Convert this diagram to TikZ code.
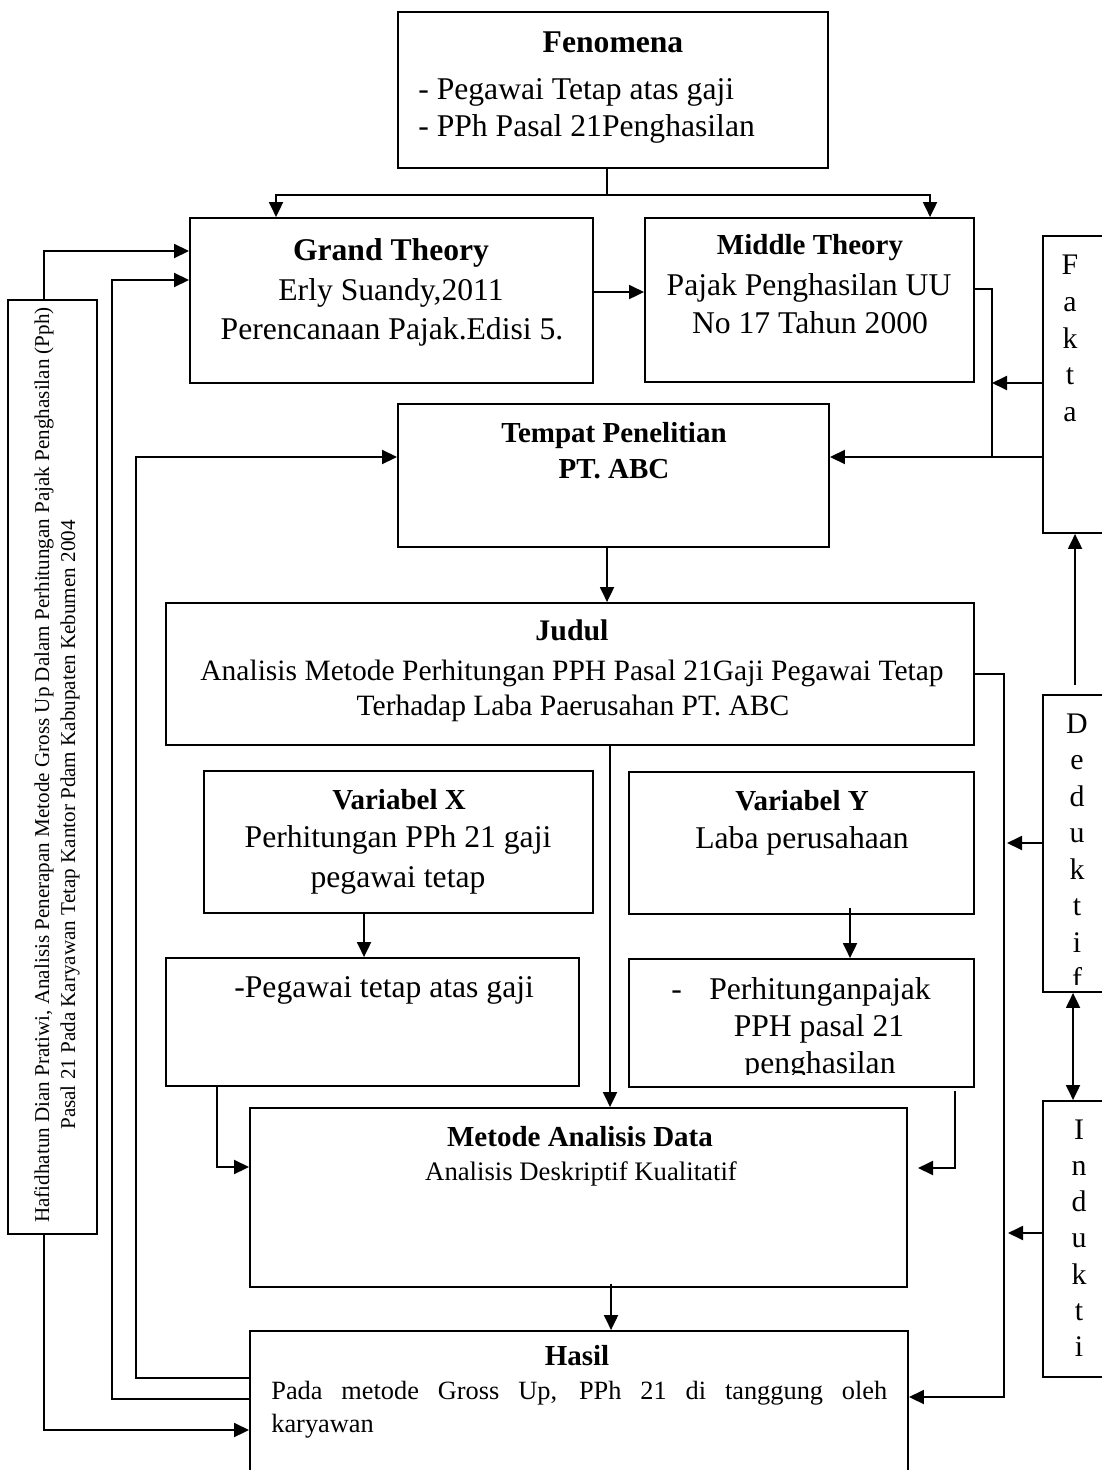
\documentclass[tikz,border=0pt]{standalone}
\usepackage{fontspec}
\setmainfont{Liberation Serif}
\usetikzlibrary{arrows.meta,fit,calc}
\begin{document}
\begin{tikzpicture}[x=0.2mm,y=-0.2mm,
  boxframe/.style={draw,line width=1.1pt,inner sep=0pt},
  conn/.style={line width=1.1pt},
  arr/.style={conn,-{Triangle[length=3mm,width=2.8mm]}},
  arrs/.style={conn,{Triangle[length=3mm,width=2.8mm]}-{Triangle[length=3mm,width=2.8mm]}},
  txt/.style={anchor=base,inner sep=0pt},
  bodytext/.style={txt,font=\fontsize{18}{22}\selectfont},
  bodysmall/.style={txt,font=\fontsize{15}{18}\selectfont},
  bighead/.style={txt,font=\bfseries\fontsize{18}{22}\selectfont},
  head/.style={txt,font=\bfseries\fontsize{16.5}{20}\selectfont},
  letter/.style={txt,font=\fontsize{17}{20}\selectfont},
  sidetext/.style={txt,anchor=base west,rotate=90,font=\fontsize{12}{14}\selectfont}]
\useasboundingbox[fill=white] (0,0) rectangle (1101,1470);
\node[boxframe,fit={(398,12)(828,168)}] (fenomena) {};
\node[boxframe,fit={(190,218)(593,383)}] (grand) {};
\node[boxframe,fit={(645,218)(974,382)}] (middle) {};
\node[boxframe,fit={(398,404)(829,547)}] (tempat) {};
\node[boxframe,fit={(166,603)(974,745)}] (judul) {};
\node[boxframe,fit={(204,771)(593,913)}] (varx) {};
\node[boxframe,fit={(629,772)(974,914)}] (vary) {};
\node[boxframe,fit={(166,958)(579,1086)}] (pegawai) {};
\node[boxframe,fit={(629,959)(974,1087)}] (perhitungan) {};
\node[boxframe,fit={(250,1108)(907,1287)}] (metode) {};
\node[boxframe,fit={(250,1331)(908,1485)}] (hasil) {};
\node[boxframe,fit={(8,300)(97,1234)}] (hafid) {};
\node[boxframe,fit={(1043,236)(1115,533)}] (fakta) {};
\node[boxframe,fit={(1043,695)(1115,992)}] (deduktif) {};
\node[boxframe,fit={(1043,1101)(1115,1377)}] (induktif) {};
\coordinate (laneA) at (44,251);
\coordinate (laneB) at (112,280);
\coordinate (laneC) at (136,457);
\coordinate (laneF) at (992,457);
\coordinate (laneFa) at (992,383);
\coordinate (laneJ) at (1004,1397);
\coordinate (laneD) at (1007,843);
\coordinate (laneI) at (1008,1233);
\coordinate (laneR) at (955,1168);
\coordinate (laneL) at (217,1167);
\draw[arr] ($(fenomena.south west)+(210,0)$) -- ++(0,26) -| ($(grand.north west)+(87,0)$);
\draw[arr] ($(fenomena.south west)+(210,0)$) -- ++(0,26) -| ($(middle.north west)+(286,0)$);
\draw[arr] ($(grand.north east)+(0,75)$) -- ($(middle.north west)+(0,75)$);
\draw[arr] (hafid.north -| laneA) -- (laneA) -- (laneA -| grand.west);
\draw[arr] (hasil.west |- 0,1399) -| (laneB) -- (laneB -| grand.west);
\draw[arr] (hasil.west |- 0,1378) -| (laneC) -- (laneC -| tempat.west);
\draw[arr] (hafid.south -| laneA) |- (hasil.west |- 0,1430);
\draw[conn] ($(middle.north east)+(0,72)$) -| (laneF);
\draw[arr] (fakta.west |- laneF) -- (laneF -| tempat.east);
\draw[arr] (fakta.west |- laneFa) -- (laneFa);
\draw[arr] ($(judul.north east)+(0,72)$) -| (laneJ) -- (laneJ -| hasil.east);
\draw[arr] (deduktif.west |- laneD) -- (laneD);
\draw[arr] (induktif.west |- laneI) -- (laneI);
\draw[arr] ($(deduktif.north west)+(33,-9)$) -- ($(fakta.south west)+(33,0)$);
\draw[arrs] ($(deduktif.south west)+(31,0)$) -- ($(induktif.north west)+(31,0)$);
\draw[arr] ($(tempat.south west)+(210,0)$) -- ($(judul.north west)+(442,0)$);
\draw[arr] ($(judul.south west)+(445,0)$) -- ($(metode.north west)+(361,0)$);
\draw[arr] ($(varx.south west)+(161,0)$) -- ($(pegawai.north west)+(199,0)$);
\draw[arr] ($(vary.south west)+(222,-7)$) -- ($(perhitungan.north west)+(222,0)$);
\draw[arr] (pegawai.south -| laneL) -- (laneL) -- (laneL -| metode.west);
\draw[arr] ($(perhitungan.south -| laneR)+(0,3)$) -- (laneR) -- ++(-37,0);
\draw[arr] ($(metode.south west)+(362,-4)$) -- ($(hasil.north west)+(362,0)$);
\node[bighead] (t-fenomena) at (613,53) {Fenomena};
\node[bodytext,anchor=base west] (t-fen1) at (418,100) {- Pegawai Tetap atas gaji};
\node[bodytext,anchor=base west] (t-fen2) at (418,137) {- PPh Pasal 21Penghasilan};
\node[bighead] (t-grand) at (391,261) {Grand Theory};
\node[bodytext] (t-grand1) at (391,301) {Erly Suandy,2011};
\node[bodytext] (t-grand2) at (392,340) {Perencanaan Pajak.Edisi 5.};
\node[head] (t-middle) at (810,255) {Middle Theory};
\node[bodytext] (t-middle1) at (809,295) {Pajak Penghasilan UU};
\node[bodytext] (t-middle2) at (810,333) {No 17 Tahun 2000};
\node[head] (t-tempat) at (614,442) {Tempat Penelitian};
\node[head] (t-tempat1) at (614,478) {PT. ABC};
\node[head,font=\bfseries\fontsize{17}{20}\selectfont] (t-judul) at (572,640) {Judul};
\node[bodytext,font=\fontsize{16.8}{20}\selectfont] (t-judul1) at (572,680) {Analisis Metode Perhitungan PPH Pasal 21Gaji Pegawai Tetap};
\node[bodytext,font=\fontsize{16.8}{20}\selectfont] (t-judul2) at (573,715) {Terhadap Laba Paerusahan PT. ABC};
\node[head] (t-varx) at (399,809) {Variabel X};
\node[bodytext] (t-varx1) at (398,847) {Perhitungan PPh 21 gaji};
\node[bodytext] (t-varx2) at (398,887) {pegawai tetap};
\node[bodytext,anchor=base west] (t-pegawai) at (234,997) {-Pegawai tetap atas gaji};
\node[head] (t-vary) at (802,810) {Variabel Y};
\node[bodytext] (t-vary1) at (802,848) {Laba perusahaan};
\node[bodytext,anchor=base west] (t-dash) at (671,999) {-};
\node[bodytext] (t-perh1) at (820,999) {Perhitunganpajak};
\node[bodytext] (t-perh2) at (819,1036) {PPH pasal 21};
\begin{scope}
\clip (629,1040) rectangle (974,1074);
\node[bodytext] (t-perh3) at (820,1073) {penghasilan};
\end{scope}
\node[head] (t-metode) at (580,1146) {Metode Analisis Data};
\node[bodysmall,font=\fontsize{15.2}{18}\selectfont] (t-metode1) at (581,1180) {Analisis Deskriptif Kualitatif};
\node[head] (t-hasil) at (577,1365) {Hasil};
\node[bodysmall,anchor=base west] (t-hasil1) at (271,1399) {\makebox[123.2mm][s]{Pada metode Gross Up, PPh 21 di tanggung oleh}};
\node[bodysmall,anchor=base west] (t-hasil2) at (271,1432) {karyawan};
\node[sidetext] (t-hafid1) at (49,1223) {Hafidhatun Dian Pratiwi, Analisis Penerapan Metode Gross Up Dalam Perhitungan Pajak Penghasilan (Pph)};
\node[sidetext] (t-hafid2) at (75,1130) {Pasal 21 Pada Karyawan Tetap Kantor Pdam Kabupaten Kebumen 2004};
\foreach \ch [count=\i from 0] in {F,a,k,t,a}
  \node[letter] (fakta-\i) at (1070,{275+36.5*\i}) {\ch};
\begin{scope}
\clip (1043,695) rectangle (1101,984);
\foreach \ch [count=\i from 0] in {D,e,d,u,k,t,i,f}
  \node[letter] (deduktif-\i) at (1077,{733+36.5*\i}) {\ch};
\end{scope}
\foreach \ch [count=\i from 0] in {I,n,d,u,k,t,i}
  \node[letter] (induktif-\i) at (1079,{1139+36.3*\i}) {\ch};
\end{tikzpicture}
\end{document}
